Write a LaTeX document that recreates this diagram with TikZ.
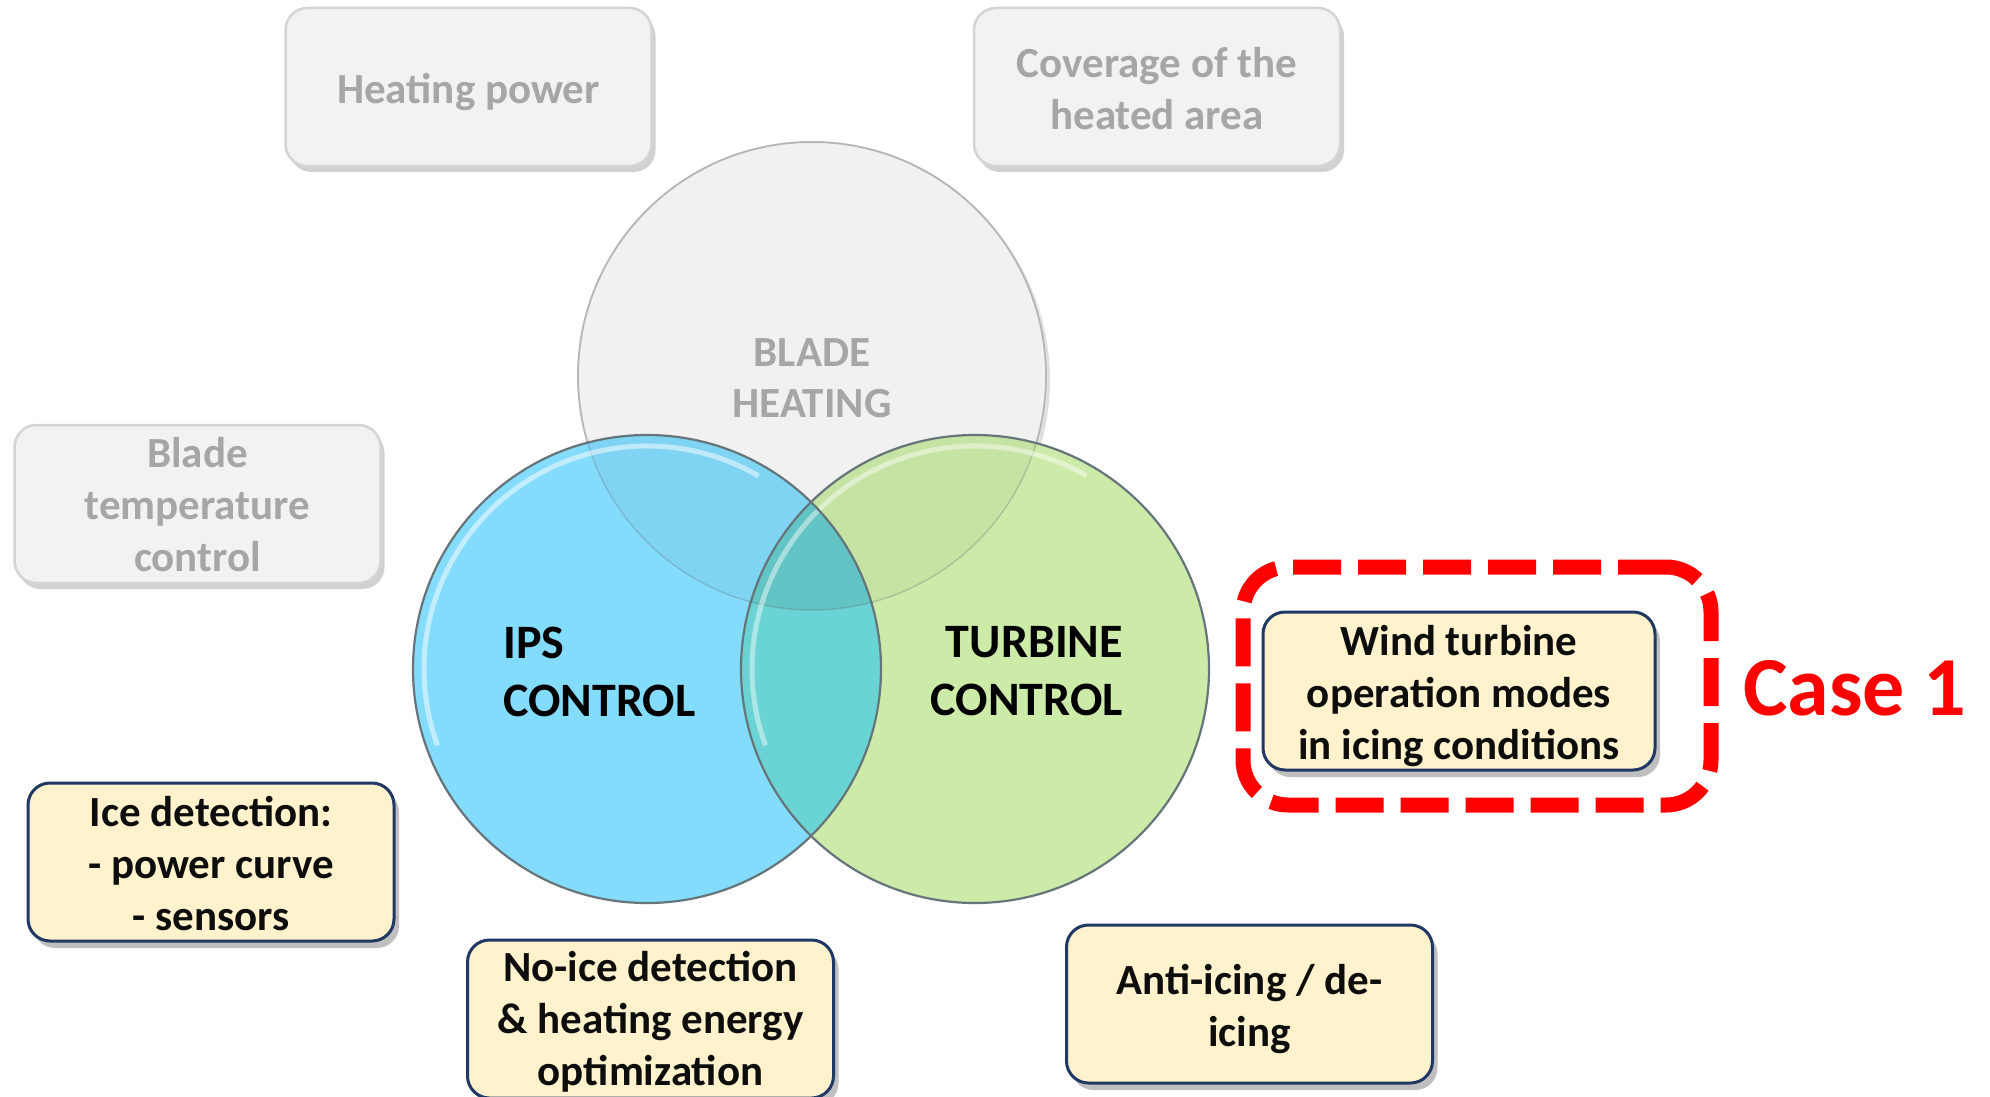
\documentclass[tikz,border=0pt]{standalone}
\usepackage{fontspec}
\setmainfont{Carlito}
\usetikzlibrary{shadows}
\definecolor{ipsblue}{HTML}{84DCFD}
\definecolor{turbgreen}{HTML}{CCEBA9}
\definecolor{lensteal}{HTML}{6AD3D3}
\definecolor{circedge}{HTML}{66757A}
\definecolor{bladefill}{HTML}{F1F1F1}
\definecolor{bladeedge}{HTML}{D2D2D2}
\definecolor{grayfill}{HTML}{F2F2F2}
\definecolor{grayedge}{HTML}{D4D4D4}
\definecolor{graytext}{HTML}{A6A6A6}
\definecolor{yellowfill}{HTML}{FFF2CC}
\definecolor{navy}{HTML}{1F3864}
\definecolor{casered}{HTML}{FF0000}
\begin{document}
\begin{tikzpicture}[x=1pt,y=-1pt,
  boxtext/.style={font=\fontsize{43}{52}\selectfont\bfseries, align=center, inner sep=0pt},
  graybox/.style={rectangle, rounded corners=22pt, fill=grayfill, draw=grayedge, line width=2.5pt,
    minimum width=366pt, minimum height=158pt, inner sep=0pt,
    drop shadow={shadow xshift=4pt, shadow yshift=-6pt, opacity=0.18, fill=black}},
  graytxt/.style={boxtext, text=graytext},
  yellowbox/.style={rectangle, rounded corners=22pt, fill=yellowfill, draw=navy, line width=3pt,
    minimum width=366pt, minimum height=158pt, inner sep=0pt,
    drop shadow={shadow xshift=5pt, shadow yshift=-7pt, opacity=0.25, fill=black}},
  yellowtxt/.style={boxtext, text=black!95},
  bigcircle/.style={circle, minimum size=468pt, inner sep=0pt},
  circlabel/.style={font=\fontsize{48}{58}\selectfont\bfseries, inner sep=0pt, text=black},
  casebox/.style={rectangle, rounded corners=45pt, draw=casered, line width=15pt,
    dash pattern=on 48pt off 17pt, minimum width=468pt, minimum height=238pt, inner sep=0pt},
]
\useasboundingbox (0,0) rectangle (1990,1097);
\fill[white] (0,0) rectangle (1990,1097);

% Blade heating circle (background layer)
\node[bigcircle, fill=bladefill, draw=bladeedge, line width=2pt,
  drop shadow={shadow xshift=4pt, shadow yshift=-4pt, opacity=0.12, fill=black}] (blade) at (812,376) {};

% IPS and turbine circles
\node[bigcircle, fill=ipsblue] (ips) at (647,669) {};
\node[bigcircle, fill=turbgreen] (turb) at (975,669) {};

% overlap lens
\begin{scope}
  \clip (ips.center) circle[radius=234pt];
  \fill[lensteal] (turb.center) circle[radius=234pt];
\end{scope}

% blade circle seen through the control circles
\begin{scope}
  \clip (ips.center) circle[radius=234pt];
  \fill[black, opacity=0.035] (blade.center) circle[radius=234pt];
\end{scope}
\begin{scope}
  \clip (turb.center) circle[radius=234pt];
  \fill[black, opacity=0.03] (blade.center) circle[radius=234pt];
\end{scope}
\draw[circedge, opacity=0.3, line width=1.5pt] (blade.center) circle[radius=234pt];

% glossy highlights (canvas angles: upper arc)
\draw[white, opacity=0.5, line width=5pt] (ips.center) ++(60:223pt) arc[start angle=60, end angle=200, radius=223pt];
\draw[white, opacity=0.45, line width=5pt] (turb.center) ++(60:223pt) arc[start angle=60, end angle=200, radius=223pt];

% circle outlines
\draw[circedge, line width=2.2pt] (ips.center) circle[radius=234pt];
\draw[circedge, line width=2.2pt] (turb.center) circle[radius=234pt];

% circle labels
\node[font=\fontsize{43}{51}\selectfont\bfseries, align=center, text=graytext, inner sep=0pt] (bladelabel) at (812,378) {BLADE\\HEATING};
\node[circlabel, align=left, anchor=west] (ipslabel) at (503,671.5) {IPS\\CONTROL};
\node[circlabel, align=right, anchor=east] (turblabel) at (1123,671.5) {TURBINE\\CONTROL};

% gray boxes
\node[graybox] (heatpow) at (468.5,87) {};
\node[graytxt, yshift=-5pt] (heatpowtext) at (heatpow.center) {Heating power};
\node[graybox] (coverage) at (1157,87) {};
\node[graytxt, yshift=-2pt] (coveragetext) at (coverage.center) {Coverage of the\\heated area};
\node[graybox] (bladetemp) at (197.5,504) {};
\node[graytxt, yshift=-1pt] (bladetemptext) at (bladetemp.center) {Blade\\temperature\\control};

% yellow boxes
\node[yellowbox, minimum width=392pt] (windop) at (1459,691) {};
\node[yellowtxt, yshift=-5pt] (windoptext) at (windop.center) {Wind turbine\\operation modes\\in icing conditions};
\node[yellowbox] (icedet) at (211,862) {};
\node[yellowtxt, yshift=-2pt] (icedettext) at (icedet.center) {Ice detection:\\- power curve\\- sensors};
\node[yellowbox] (noice) at (650.5,1019) {};
\node[yellowtxt, yshift=-3pt] (noicetext) at (noice.center) {No-ice detection\\\& heating energy\\optimization};
\node[yellowbox] (antiice) at (1249.5,1004) {};
\node[yellowtxt, yshift=-5pt] (antiicetext) at (antiice.center) {Anti-icing / de-\\icing};

% case 1
\node[casebox] (casebox) at (1477,686) {};
\node[font=\fontsize{84}{100}\selectfont\bfseries, text=casered, inner sep=0pt, anchor=base west] (caselabel) at (1743,715) {Case 1};
\end{tikzpicture}
\end{document}
